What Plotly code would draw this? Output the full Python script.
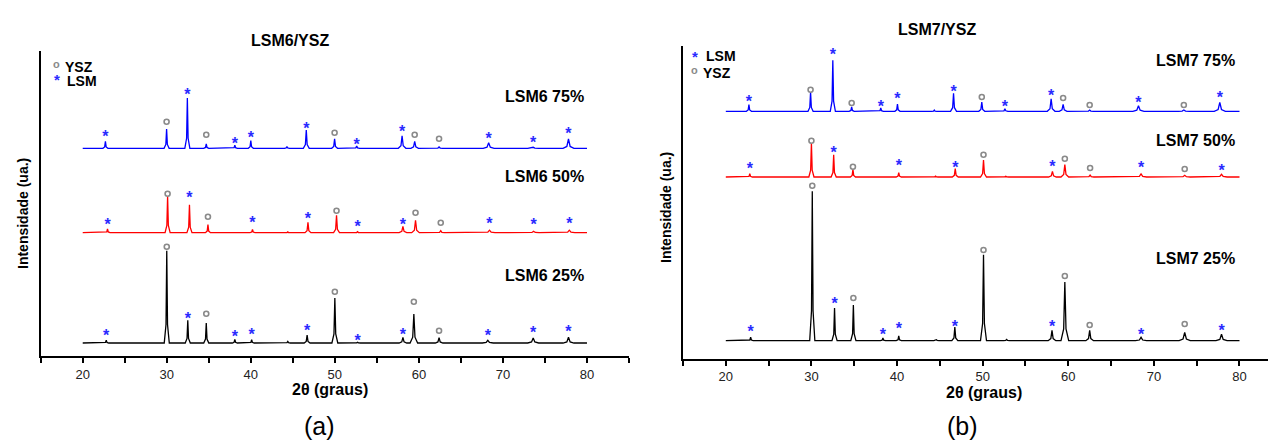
import plotly.graph_objects as go

# ---------------- data ----------------
# x axis ticks (2-theta, degrees)
tick_values = [15, 20, 25, 30, 35, 40, 45, 50, 55, 60, 65, 70, 75, 80, 85]
tick_labels = ['', '20', '', '30', '', '40', '', '50', '', '60', '', '70', '', '80', '']

scan_start = 20
scan_end = 80

# ---- Panel (a): LSM6/YSZ ----
lsm6_75_pos = [22.7, 29.98, 32.45, 34.7, 38.1, 40.0, 44.3, 46.6, 49.97, 52.6, 58.0, 59.5, 62.4, 68.3, 73.6, 77.8]
lsm6_75_int = [7, 19.3, 50.3, 4.3, 3, 7.6, 1.7, 18.3, 9.6, 2.3, 12.6, 7, 1.3, 5.6, 1, 9.3]
lsm6_75_phase = ['*', 'o', '*', 'o', '*', '*', '', '*', 'o', '*', '*', 'o', 'o', '*', '*', '*']
lsm6_75_mark = [13.3, 26.6, 55.3, 13.6, 6.3, 12.3, 0, 21.3, 15.6, 5.3, 18.6, 13.6, 9.6, 11.3, 7.6, 16.3]

lsm6_50_pos = [22.95, 30.1, 32.7, 34.9, 40.2, 44.4, 46.8, 50.2, 52.7, 58.1, 59.6, 62.6, 68.4, 73.65, 77.9]
lsm6_50_int = [3.7, 36.4, 28, 8, 3.4, 0.8, 10.4, 17.4, 1, 6.4, 12.4, 2, 2.5, 1.5, 2.5]
lsm6_50_phase = ['*', 'o', '*', 'o', '*', '', '*', 'o', '*', '*', 'o', 'o', '*', '*', '*']
lsm6_50_mark = [9.7, 39, 37, 16, 11.4, 0, 15.7, 22, 7.4, 9.7, 20, 10, 11, 10, 11]

lsm6_25_pos = [22.8, 30.0, 32.5, 34.7, 38.1, 40.1, 44.4, 46.7, 50.0, 52.7, 58.1, 59.4, 62.4, 68.2, 73.6, 77.8]
lsm6_25_int = [2.7, 92.3, 22.7, 20, 3.7, 3.3, 1.5, 8, 45, 0.8, 5.7, 29, 5.3, 2.7, 5, 5.7]
lsm6_25_phase = ['*', 'o', '*', 'o', '*', '*', '', '*', 'o', '*', '*', 'o', 'o', '*', '*', '*']
lsm6_25_mark = [9, 96.3, 26, 29.3, 8, 10, 0, 14.3, 51.3, 4, 10, 41.3, 12.3, 9, 12, 13]

lsm6_offsets = [208, 123.6, 13.3]          # 75 %, 50 %, 25 %
lsm6_names = ['LSM6 75%', 'LSM6 50%', 'LSM6 25%']

# ---- Panel (b): LSM7/YSZ ----
lsm7_75_pos = [22.7, 29.9, 32.5, 34.7, 38.1, 40.05, 44.35, 46.6, 49.9, 52.6, 58.0, 59.4, 62.5, 68.2, 73.5, 77.7]
lsm7_75_int = [6.6, 19.3, 51, 4.3, 3.3, 7.3, 1.3, 18, 9.3, 2.6, 12.6, 7, 1.3, 5.6, 1.3, 9]
lsm7_75_phase = ['*', 'o', '*', 'o', '*', '*', '', '*', 'o', '*', '*', 'o', 'o', '*', 'o', '*']
lsm7_75_mark = [11.6, 21.6, 58.3, 8.3, 6, 14, 0, 21.6, 14.3, 6, 17.3, 13.3, 6.3, 10.3, 6.3, 15.3]

lsm7_50_pos = [22.8, 30.0, 32.6, 34.85, 40.2, 44.5, 46.8, 50.1, 52.7, 58.15, 59.6, 62.55, 64.8, 68.5, 73.6, 77.9]
lsm7_50_int = [3.3, 34, 22.3, 7.7, 4.3, 0.8, 8.3, 17, 0.8, 5.7, 12.3, 2, 0.7, 3, 1.7, 2.7]
lsm7_50_phase = ['*', 'o', '*', 'o', '*', '', '*', 'o', '', '*', 'o', 'o', '', '*', 'o', '*']
lsm7_50_mark = [9.7, 36.3, 25.7, 10.3, 13, 0, 11, 22.3, 0, 12, 18.3, 9, 0, 11, 8, 8]

lsm7_25_pos = [22.9, 30.1, 32.7, 34.9, 38.35, 40.2, 44.6, 46.75, 50.1, 52.8, 58.1, 59.6, 62.5, 68.5, 73.6, 77.9]
lsm7_25_int = [3.4, 149.4, 32.7, 35.7, 2.7, 4.7, 1, 13.7, 86, 1.3, 10.4, 58.7, 10.4, 3.4, 8.4, 6.4]
lsm7_25_phase = ['*', 'o', '*', 'o', '*', '*', '', '*', 'o', '', '*', 'o', 'o', '*', 'o', '*']
lsm7_25_mark = [10.7, 155, 38.4, 42.7, 7.4, 13.4, 0, 15.7, 90.7, 0, 15.7, 64.7, 15.7, 8, 16.7, 11.7]

lsm7_offsets = [247.4, 181.7, 18]          # 75 %, 50 %, 25 %
lsm7_names = ['LSM7 75%', 'LSM7 50%', 'LSM7 25%']

series_colors = ['#0000ff', '#ff0000', '#000000']

# ---------------- helpers ----------------
W, H = 1276, 441
FONT = 'Liberation Sans, Arial, sans-serif'
STAR_COLOR = '#2a2aff'
RING_COLOR = '#8a8a8a'


def half_width(p):
    if p < 45:
        return 0.3
    if p < 56:
        return 0.35
    if p < 65:
        return 0.45
    return 0.65


def profile(pos, inten, offset):
    xs, ys = [scan_start], [offset]
    for p, h in sorted(zip(pos, inten)):
        w = half_width(p)
        xs += [p - w, p - 0.3 * w, p, p + 0.3 * w, p + w]
        ys += [offset, offset + 0.2 * h, offset + h, offset + 0.2 * h, offset]
    xs.append(scan_end)
    ys.append(offset)
    return xs, ys


def px(x):
    return x / W


def py(y):
    return 1 - y / H


fig = go.Figure()


def add_panel(series, offsets, xa, ya):
    for (pos, inten, phase, mark), off, col in zip(series, offsets, series_colors):
        xs, ys = profile(pos, inten, off)
        fig.add_trace(go.Scatter(x=xs, y=ys, mode='lines', xaxis=xa, yaxis=ya,
                                 line=dict(color=col, width=1.3), showlegend=False,
                                 hoverinfo='skip'))
        sx = [p for p, ph in zip(pos, phase) if ph == '*']
        sy = [off + m - 3.2 for m, ph in zip(mark, phase) if ph == '*']
        ox = [p for p, ph in zip(pos, phase) if ph == 'o']
        oy = [off + m for m, ph in zip(mark, phase) if ph == 'o']
        fig.add_trace(go.Scatter(x=sx, y=sy, mode='text', text=['*'] * len(sx),
                                 textposition='middle center', xaxis=xa, yaxis=ya,
                                 textfont=dict(family=FONT, size=16, color=STAR_COLOR, weight='bold'),
                                 showlegend=False, hoverinfo='skip'))
        fig.add_trace(go.Scatter(x=ox, y=oy, mode='markers', xaxis=xa, yaxis=ya,
                                 marker=dict(symbol='circle-open', size=5, color=RING_COLOR,
                                             line=dict(width=1.6, color=RING_COLOR)),
                                 showlegend=False, hoverinfo='skip'))


add_panel([(lsm6_75_pos, lsm6_75_int, lsm6_75_phase, lsm6_75_mark),
           (lsm6_50_pos, lsm6_50_int, lsm6_50_phase, lsm6_50_mark),
           (lsm6_25_pos, lsm6_25_int, lsm6_25_phase, lsm6_25_mark)],
          lsm6_offsets, 'x', 'y')
add_panel([(lsm7_75_pos, lsm7_75_int, lsm7_75_phase, lsm7_75_mark),
           (lsm7_50_pos, lsm7_50_int, lsm7_50_phase, lsm7_50_mark),
           (lsm7_25_pos, lsm7_25_int, lsm7_25_phase, lsm7_25_mark)],
          lsm7_offsets, 'x2', 'y2')

xaxis_common = dict(showline=True, linecolor='black', linewidth=2, ticks='outside',
                    ticklen=5, tickwidth=1.5, tickcolor='black', showgrid=False,
                    zeroline=False, tickmode='array', range=[15, 85],
                    tickvals=tick_values, ticktext=tick_labels,
                    tickfont=dict(family=FONT, size=13, color='#222222'))
yaxis_common = dict(showline=True, linecolor='black', linewidth=2, ticks='',
                    showticklabels=False, showgrid=False, zeroline=False)

fig.update_layout(
    width=W, height=H, margin=dict(l=0, r=0, t=0, b=0),
    paper_bgcolor='white', plot_bgcolor='white', showlegend=False,
    xaxis=dict(domain=[px(32.7), px(621)], anchor='y', **xaxis_common),
    yaxis=dict(domain=[py(348.3), py(43.3)], range=[0, 305], anchor='x', **yaxis_common),
    xaxis2=dict(domain=[px(675), px(1274.3)], anchor='y2', **xaxis_common),
    yaxis2=dict(domain=[py(350.7), py(38.3)], range=[0, 312.4], anchor='x2', **yaxis_common),
)


def ann(text, x, y, size, bold=True, xanchor='center', angle=0, color='black'):
    fig.add_annotation(text=f'<b>{text}</b>' if bold else text, x=px(x), y=py(y),
                       xref='paper', yref='paper', showarrow=False, xanchor=xanchor,
                       yanchor='middle', textangle=angle,
                       font=dict(family=FONT, size=size, color=color))


# titles
ann('LSM6/YSZ', 282, 33, 16)
ann('LSM7/YSZ', 929, 21, 16)
# series labels
for name, y in zip(lsm6_names, [88, 168, 267.3]):
    ann(name, 578, y, 16, xanchor='right')
for name, y in zip(lsm7_names, [52, 132.7, 250.7]):
    ann(name, 1229, y, 16, xanchor='right')
# axis titles
ann('2θ (graus)', 321.7, 381.5, 16)
ann('2θ (graus)', 976, 384.5, 16)
ann('Intensidade (ua.)', 15, 206, 14, angle=-90)
ann('Intensidade (ua.)', 658, 200, 14, angle=-90)
ann('(a)', 311.3, 418, 25, bold=False)
ann('(b)', 954, 418, 25, bold=False)

# phase keys
ann('o', 48, 56, 11, color=RING_COLOR)
ann('YSZ', 55, 58.5, 14, xanchor='left')
ann('*', 49, 72, 15, color=STAR_COLOR)
ann('LSM', 57, 72.5, 14, xanchor='left')

ann('*', 687, 48, 15, color=STAR_COLOR)
ann('LSM', 696, 48.5, 14, xanchor='left')
ann('o', 686, 62, 11, color=RING_COLOR)
ann('YSZ', 693, 65, 14, xanchor='left')

fig.write_html('out.html')
